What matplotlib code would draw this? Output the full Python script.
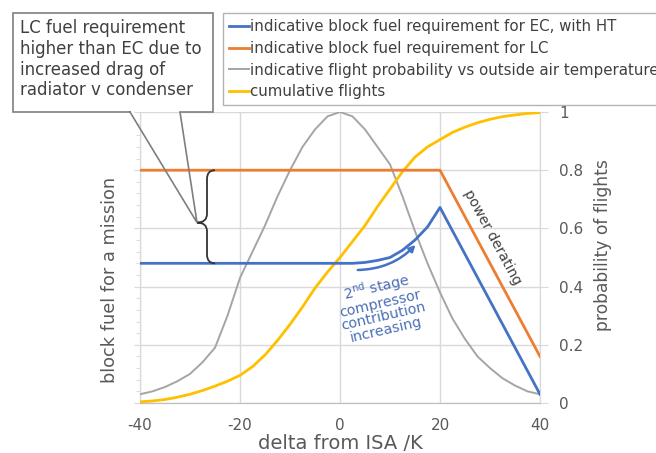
import matplotlib
matplotlib.use("Agg")
import matplotlib.pyplot as plt
from matplotlib.patches import Rectangle, FancyArrowPatch, PathPatch
from matplotlib.lines import Line2D
from matplotlib.path import Path

# ---------------- data ----------------
temps = [-40, -37.5, -35, -32.5, -30, -27.5, -25, -22.5, -20, -17.5, -15, -12.5, -10,
         -7.5, -5, -2.5, 0, 2.5, 5, 7.5, 10, 12.5, 15, 17.5, 20, 22.5, 25, 27.5, 30,
         32.5, 35, 37.5, 40]
flight_prob = [0.03, 0.04, 0.055, 0.075, 0.10, 0.14, 0.19, 0.30, 0.43, 0.52, 0.61, 0.71, 0.80,
               0.88, 0.94, 0.985, 1.00, 0.985, 0.94, 0.88, 0.82, 0.71, 0.59, 0.48, 0.38, 0.29,
               0.22, 0.16, 0.12, 0.085, 0.06, 0.04, 0.03]
cum_flights = [0.004, 0.007, 0.012, 0.02, 0.03, 0.043, 0.058, 0.075, 0.095, 0.125, 0.165, 0.215,
               0.27, 0.33, 0.395, 0.45, 0.50, 0.555, 0.61, 0.675, 0.735, 0.795, 0.845, 0.88,
               0.905, 0.93, 0.948, 0.963, 0.975, 0.984, 0.99, 0.995, 0.998]
ec_temps = [-40, 0, 2.5, 5, 7.5, 10, 12.5, 15, 17.5, 20, 40]
ec_fuel = [0.48, 0.48, 0.48, 0.483, 0.49, 0.50, 0.525, 0.56, 0.605, 0.672, 0.03]
lc_temps = [-40, 20, 40]
lc_fuel = [0.80, 0.80, 0.16]

x_ticks = [-40, -20, 0, 20, 40]
y_ticks = [0, 0.2, 0.4, 0.6, 0.8, 1]
y_ticklabels = ["0", "0.2", "0.4", "0.6", "0.8", "1"]

labels = ["indicative block fuel requirement for EC, with HT",
          "indicative block fuel requirement for LC",
          "indicative flight probability vs outside air temperature",
          "cumulative flights"]
callout = "LC fuel requirement\nhigher than EC due to\nincreased drag of\nradiator v condenser"

# ---------------- style ----------------
BLUE = "#4472C4"
ORANGE = "#ED7D31"
GRAY = "#A5A5A5"
YELLOW = "#FFC000"
GRID = "#D9D9D9"
TXT = "#595959"

W, H = 656, 453
fig = plt.figure(figsize=(W / 100, H / 100), dpi=100)
fig.patch.set_facecolor("white")

def fx(px):
    return px / W

def fy(py):
    return 1 - py / H

ax_l, ax_r, ax_t, ax_b = 140, 540, 112, 403
ax = fig.add_axes([fx(ax_l), fy(ax_b), (ax_r - ax_l) / W, (ax_b - ax_t) / H])
ax2 = ax.twinx()

for a in (ax, ax2):
    a.set_xlim(-40, 40)
    a.set_ylim(0, 1)

# grid
ax.set_xticks(x_ticks)
ax.set_xticklabels([str(t) for t in x_ticks])
ax.set_yticks(y_ticks)
ax.set_yticklabels([])
ax.grid(True, color=GRID, lw=1.0)
ax.set_axisbelow(True)
ax.tick_params(axis="x", length=0, pad=11, labelsize=11, labelcolor=TXT)
ax.tick_params(axis="y", which="major", length=4, color=GRID, left=True)
ax.set_yticks([i * 0.04 for i in range(26)], minor=True)
ax.tick_params(axis="y", which="minor", length=3, color=GRID)

ax2.set_yticks(y_ticks)
ax2.set_yticklabels(y_ticklabels)
ax2.tick_params(axis="y", length=6, color=GRID, pad=8, labelsize=11, labelcolor=TXT)

for a in (ax, ax2):
    a.spines["top"].set_visible(False)
    a.spines["left"].set_color(GRID)
    a.spines["right"].set_color(GRID)
    a.spines["bottom"].set_color("#BFBFBF")

ax.set_xlabel("delta from ISA /K", fontsize=14, color=TXT)
ax.xaxis.set_label_coords(0.5, -0.105)
ax.set_ylabel("block fuel for a mission", fontsize=12.8, color=TXT)
ax.yaxis.set_label_coords(-0.052, 0.423)
ax2.set_ylabel("probability of flights", fontsize=12.3, color=TXT)
ax2.yaxis.set_label_coords(1.135, 0.543)

# lines
l1, = ax2.plot(ec_temps, ec_fuel, color=BLUE, lw=2.0, zorder=4)
l2, = ax2.plot(lc_temps, lc_fuel, color=ORANGE, lw=2.0, zorder=4)
l3, = ax2.plot(temps, flight_prob, color=GRAY, lw=1.4, zorder=3)
l4, = ax2.plot(temps, cum_flights, color=YELLOW, lw=2.0, zorder=3)

leg = fig.legend([l1, l2, l3, l4], labels, loc="upper left",
                 bbox_to_anchor=(fx(223), fy(13)), borderaxespad=0,
                 fontsize=10.8, frameon=True, fancybox=False, handlelength=1.35,
                 handletextpad=0.08, labelspacing=0.45, borderpad=0.4)
leg.get_frame().set_edgecolor("#A0A0A0")
leg.get_frame().set_linewidth(1.0)
for t in leg.get_texts():
    t.set_color("#404040")

# brace between LC and EC levels
y_top = lc_fuel[0]
y_bot = ec_fuel[0]
ymid = (y_top + y_bot) / 2 - 0.02
xv, xe, xt, c = -26.6, -25.0, -28.6, 0.03
verts = [(xe, y_top), (xv, y_top), (xv, y_top - c),
         (xv, ymid + c), (xv, ymid), (xt, ymid),
         (xv, ymid), (xv, ymid - c),
         (xv, y_bot + c), (xv, y_bot), (xe, y_bot)]
codes = [Path.MOVETO, Path.CURVE3, Path.CURVE3,
         Path.LINETO, Path.CURVE3, Path.CURVE3,
         Path.CURVE3, Path.CURVE3,
         Path.LINETO, Path.CURVE3, Path.CURVE3]
ax2.add_patch(PathPatch(Path(verts, codes), fill=False, edgecolor="#333333", lw=1.3, zorder=5))

# callout box with pointer (pointer not filled)
fig.canvas.draw()
tip_disp = ax2.transData.transform((xt, ymid))
tip = fig.transFigure.inverted().transform(tip_disp)
fig.add_artist(Rectangle((fx(13), fy(112)), fx(213) - fx(13), fy(13) - fy(112),
                         transform=fig.transFigure, facecolor="white", edgecolor="none",
                         zorder=10))
outline = [(fx(130), fy(112)), (fx(13), fy(112)), (fx(13), fy(13)), (fx(213), fy(13)),
           (fx(213), fy(112)), (fx(180), fy(112)), tuple(tip), (fx(130), fy(112))]
fig.add_artist(Line2D([p[0] for p in outline], [p[1] for p in outline],
                      transform=fig.transFigure, color="#7F7F7F", lw=1.2, zorder=11,
                      solid_joinstyle="miter"))
fig.text(fx(20), fy(19), callout, fontsize=12, color="#404040", va="top", ha="left",
         linespacing=1.2, zorder=12)

# annotations
arr = FancyArrowPatch((3, 0.457), (15.5, 0.55), connectionstyle="arc3,rad=0.22",
                      arrowstyle="-|>", mutation_scale=9, color=BLUE, lw=1.8, zorder=6)
ax2.add_patch(arr)
ax2.text(8.2, 0.33, "2$^{\\rm nd}$ stage\ncompressor\ncontribution\nincreasing",
         fontsize=10.3, color="#4A6FB5", rotation=13, ha="center", va="center",
         linespacing=0.95, rotation_mode="anchor", zorder=6)
ax2.text(30.4, 0.57, "power derating", fontsize=10, color="#404040", rotation=-61.5,
         ha="center", va="center", rotation_mode="anchor", zorder=6)

fig.savefig("out.png", dpi=100)
